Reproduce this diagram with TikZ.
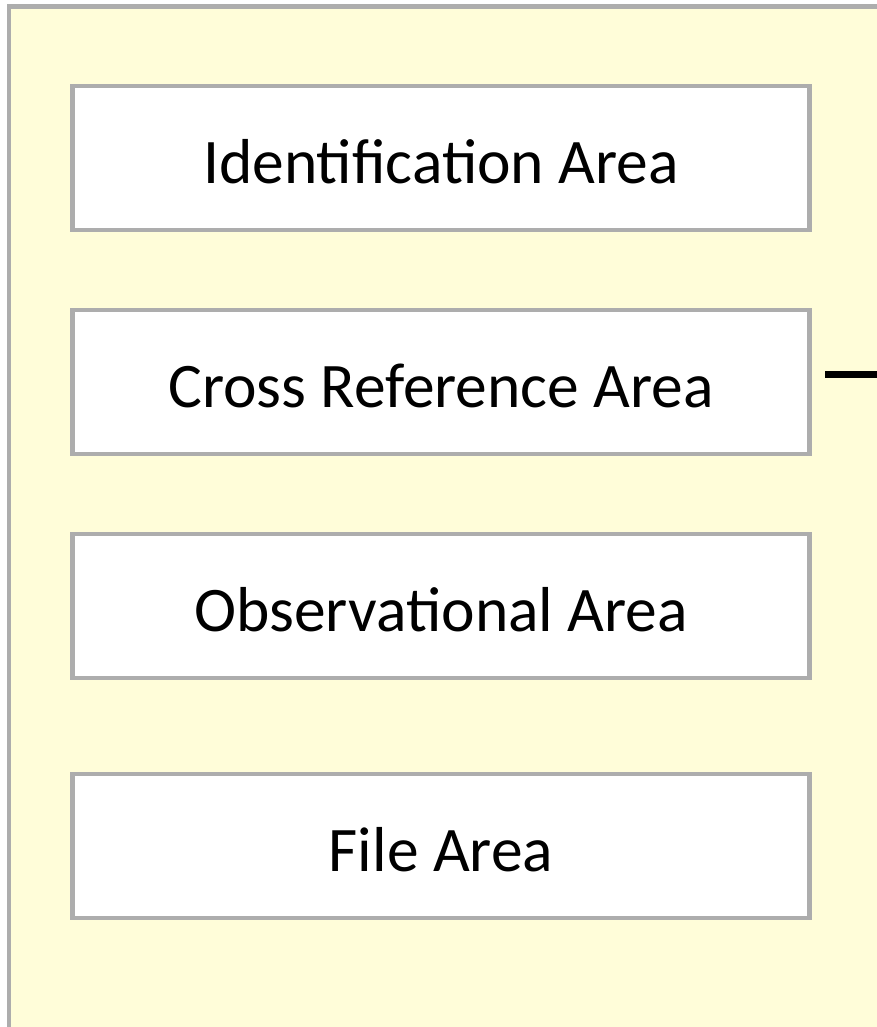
\documentclass[tikz,border=0pt]{standalone}
\usepackage{fontspec}
\setmainfont{Carlito}
\definecolor{bordergray}{HTML}{ADADAD}
\definecolor{paleyellow}{HTML}{FFFDD9}
\begin{document}
\begin{tikzpicture}[x=1pt,y=-1pt,
  area/.style={draw=bordergray, line width=4.5pt, fill=white, minimum width=737pt, minimum height=144pt, inner sep=0pt, text height=50pt, text depth=0pt, font=\fontsize{63.5}{76}\selectfont, text=black}]
\useasboundingbox (0,0) rectangle (877,1027);
\clip (0,0) rectangle (877,1027);
\draw[draw=bordergray, fill=paleyellow, line width=4.5pt] (9,6.5) rectangle (900,1050);
\node[area] (ident) at (441,158) {Identification Area};
\node[area] (cross) at (441,382) {Cross Reference Area};
\node[area] (obs) at (441,606) {Observational Area};
\node[area] (file) at (441,846) {File Area};
\coordinate (ls) at (825,374.5);
\coordinate (le) at (890,374.5);
\draw[line width=6.5pt, black] (ls) -- (le);
\end{tikzpicture}
\end{document}
